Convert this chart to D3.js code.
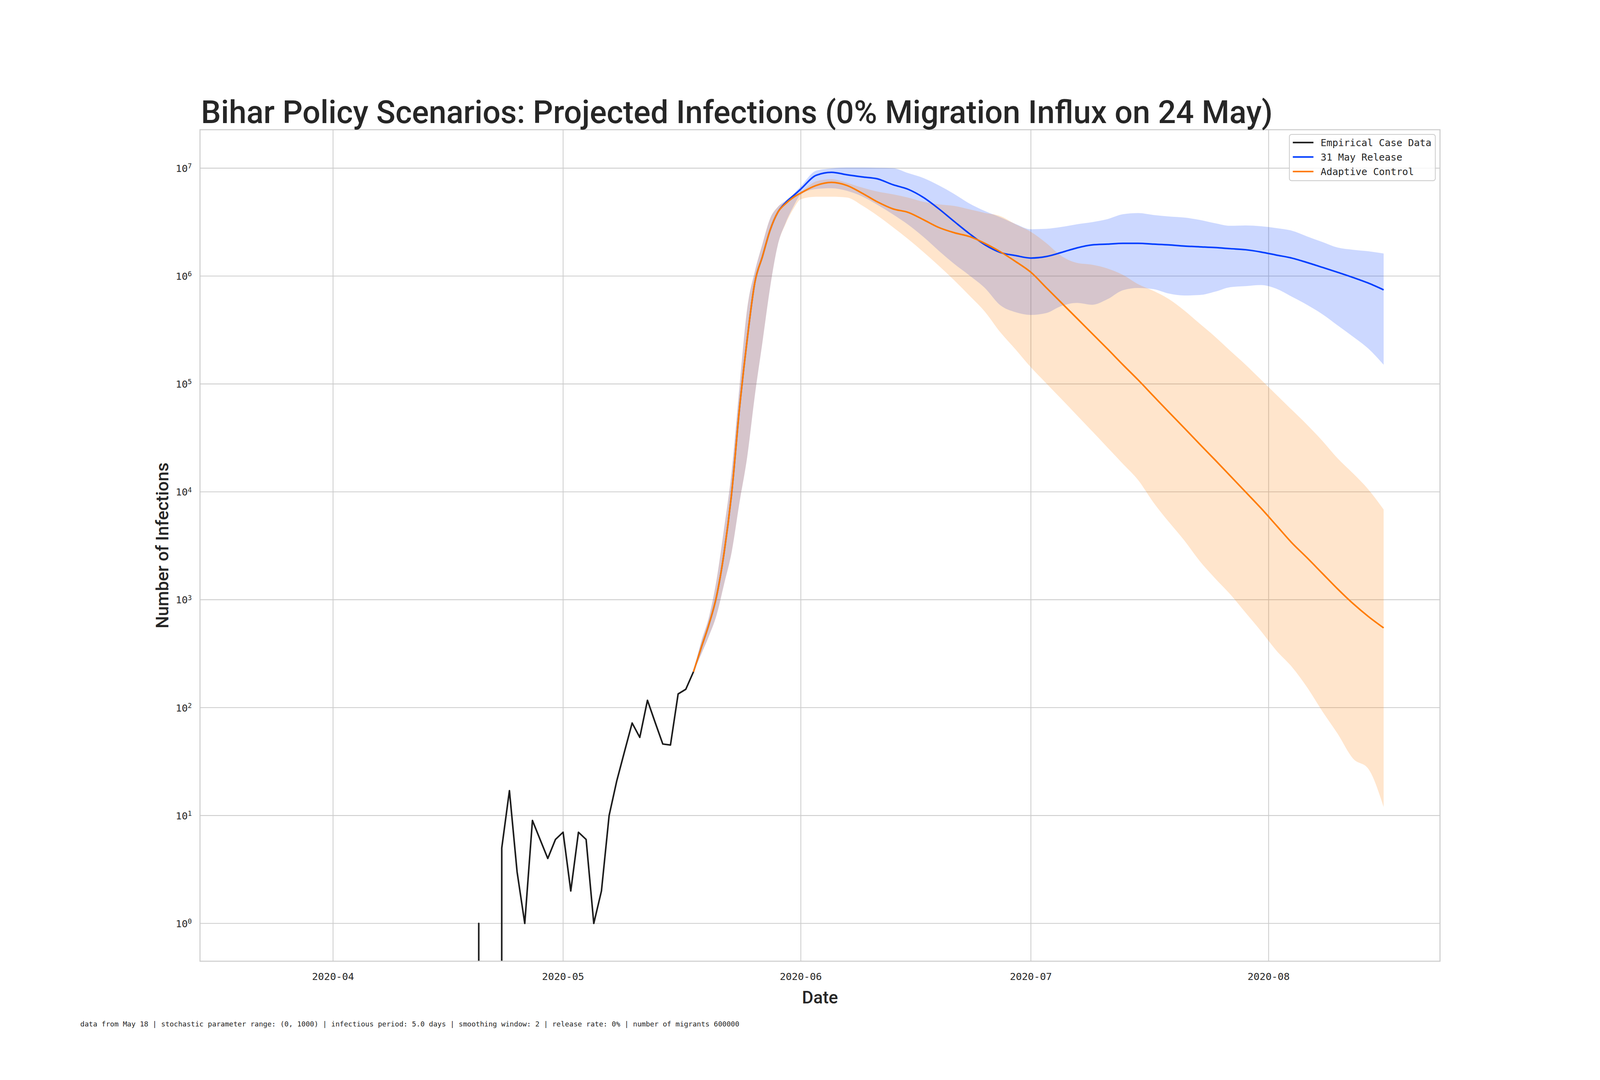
<!DOCTYPE html>
<html>
<head>
<meta charset="utf-8">
<script src="https://cdn.jsdelivr.net/npm/d3@7"></script>
<style>
  html, body { margin: 0; padding: 0; background: #fff; overflow: hidden; }
  #chart svg { display: block; }
</style>
</head>
<body>
<div id="chart"></div>
<script>

// daily empirical case counts starting 22 March
var caseStart = "2020-03-22";
var cases = [0,0,0,0,0,0,0,0,0,0,
             0,0,0,0,0,0,0,0,0,0,0,0,0,0,0,0,0,0,0,
             1,0,0,5,17,3,1,9,6,4,6,
             7,2,7,6,1,2,10,21,39,72,53,117,73,46,45,134,148,215];

// projection dates
var projDates = ["2020-05-18","2020-05-19","2020-05-20","2020-05-21","2020-05-22","2020-05-23","2020-05-24",
                 "2020-05-25","2020-05-26","2020-05-27","2020-05-28","2020-05-29","2020-05-30","2020-05-31",
                 "2020-06-01","2020-06-03","2020-06-05","2020-06-07","2020-06-09","2020-06-11","2020-06-13",
                 "2020-06-15","2020-06-17","2020-06-19","2020-06-21","2020-06-23","2020-06-25","2020-06-27",
                 "2020-06-29","2020-07-01","2020-07-03","2020-07-05","2020-07-07","2020-07-09","2020-07-11",
                 "2020-07-13","2020-07-15","2020-07-17","2020-07-19","2020-07-21","2020-07-23","2020-07-25",
                 "2020-07-27","2020-07-29","2020-07-31","2020-08-02","2020-08-04","2020-08-06","2020-08-08",
                 "2020-08-10","2020-08-12","2020-08-14","2020-08-16"];

// log10 of projected infections
var releaseMid = [2.332,2.553,2.768,3.029,3.439,4.002,4.773,5.410,5.940,6.182,6.427,6.591,6.680,6.743,
                  6.807,6.934,6.962,6.939,6.919,6.901,6.847,6.804,6.728,6.623,6.506,6.392,6.290,6.219,
                  6.190,6.167,6.181,6.219,6.261,6.289,6.296,6.303,6.303,6.296,6.289,6.278,6.271,6.264,
                  6.254,6.244,6.223,6.195,6.167,6.126,6.081,6.035,5.987,5.935,5.872];
var releaseLo  = [2.332,2.493,2.661,2.855,3.147,3.449,3.901,4.321,4.891,5.390,5.897,6.289,6.490,6.640,
                  6.756,6.807,6.814,6.790,6.738,6.660,6.572,6.476,6.362,6.234,6.113,6.005,5.890,5.730,
                  5.665,5.640,5.657,5.723,5.751,5.734,5.786,5.869,5.890,5.879,5.838,5.820,5.824,5.855,
                  5.897,5.907,5.917,5.883,5.810,5.734,5.647,5.543,5.439,5.328,5.178];
var releaseHi  = [2.332,2.610,2.835,3.180,3.667,4.203,4.975,5.696,6.041,6.299,6.534,6.641,6.700,6.760,
                  6.832,6.977,6.998,7.006,7.006,7.003,7.000,6.954,6.908,6.840,6.761,6.672,6.603,6.545,
                  6.483,6.434,6.438,6.455,6.480,6.500,6.528,6.573,6.584,6.566,6.552,6.542,6.521,6.490,
                  6.466,6.469,6.462,6.445,6.421,6.368,6.316,6.264,6.244,6.230,6.209];

var adaptiveMid = [2.332,2.553,2.768,3.029,3.439,4.002,4.773,5.410,5.940,6.182,6.427,6.591,6.670,6.728,
                   6.770,6.840,6.868,6.840,6.768,6.687,6.623,6.590,6.522,6.450,6.402,6.366,6.303,6.226,
                   6.135,6.035,5.893,5.751,5.609,5.466,5.324,5.178,5.036,4.887,4.738,4.592,4.443,4.297,
                   4.148,3.999,3.849,3.690,3.530,3.390,3.245,3.100,2.965,2.845,2.739];
var adaptiveLo  = [2.332,2.493,2.661,2.855,3.147,3.449,3.901,4.321,4.891,5.390,5.897,6.289,6.480,6.618,
                   6.712,6.735,6.735,6.728,6.654,6.560,6.454,6.342,6.222,6.095,5.961,5.818,5.670,5.480,
                   5.320,5.154,5.006,4.859,4.710,4.561,4.410,4.259,4.108,3.900,3.720,3.550,3.360,3.200,
                   3.050,2.880,2.710,2.530,2.380,2.190,1.967,1.758,1.528,1.433,1.078];
var adaptiveHi  = [2.332,2.610,2.835,3.180,3.667,4.203,4.975,5.696,6.041,6.299,6.534,6.641,6.691,6.745,
                   6.781,6.878,6.898,6.865,6.820,6.783,6.758,6.727,6.688,6.665,6.650,6.618,6.585,6.556,
                   6.480,6.410,6.306,6.185,6.122,6.105,6.070,6.011,5.924,5.862,5.786,5.681,5.560,5.439,
                   5.307,5.178,5.040,4.901,4.762,4.623,4.474,4.311,4.172,4.023,3.836];

var yTickExps = [0,1,2,3,4,5,6,7];
var xTicks = ["2020-04-01","2020-05-01","2020-06-01","2020-07-01","2020-08-01"];
var seriesNames = ["Empirical Case Data", "31 May Release", "Adaptive Control"];
var seriesColors = ["#1c1c1c", "#023eff", "#ff7c00"];

var titleText = "Bihar Policy Scenarios: Projected Infections (0% Migration Influx on 24 May)";
var footerText = "data from May 18 | stochastic parameter range: (0, 1000) | infectious period: 5.0 days | smoothing window: 2 | release rate: 0% | number of migrants 600000";

// layout is laid out on a 5120 x 2764 figure and scaled to the window
var W = window.innerWidth || 5120, H = window.innerHeight || 2764;
var kx = W / 5120, ky = H / 2764, k = kx;

var margin = {top: 332 * ky, right: 512 * kx, bottom: 304 * ky, left: 640 * kx},
    width = W - margin.left - margin.right,
    height = H - margin.top - margin.bottom;

var parse = d3.utcParse("%Y-%m-%d");
var t0 = parse(caseStart);
var empirical = cases.map(function(v, i) { return {date: d3.utcDay.offset(t0, i), v: v}; });

function rows(mid, lo, hi) {
  return projDates.map(function(d, i) {
    return {date: parse(d), mid: Math.pow(10, mid[i]), lo: Math.pow(10, lo[i]), hi: Math.pow(10, hi[i])};
  });
}
var release = rows(releaseMid, releaseLo, releaseHi);
var adaptive = rows(adaptiveMid, adaptiveLo, adaptiveHi);

// domains padded by 5% like matplotlib autoscale
var allDates = empirical.map(function(d) { return d.date; }).concat(release.map(function(d) { return d.date; }));
var dExt = d3.extent(allDates);
var span = dExt[1] - dExt[0];
var x = d3.scaleUtc()
    .domain([new Date(+dExt[0] - span * 0.05), new Date(+dExt[1] + span * 0.05)])
    .range([0, width]);

var pos = cases.filter(function(v) { return v > 0; })
    .concat(release.map(function(d) { return d.hi; }), adaptive.map(function(d) { return d.hi; }),
            release.map(function(d) { return d.lo; }), adaptive.map(function(d) { return d.lo; }));
var lmin = Math.log10(d3.min(pos)), lmax = Math.log10(d3.max(pos));
var lpad = (lmax - lmin) * 0.05;
var y = d3.scaleLog()
    .domain([Math.pow(10, lmin - lpad), Math.pow(10, lmax + lpad)])
    .range([height, 0]);

function yv(v) { return v > 0 ? y(v) : height + 1e5; }

var svg = d3.select("#chart").append("svg")
    .attr("width", W)
    .attr("height", H)
    .style("background", "#fff");

var g = svg.append("g")
    .attr("transform", "translate(" + margin.left + "," + margin.top + ")");

g.append("defs").append("clipPath")
    .attr("id", "plot-clip")
  .append("rect")
    .attr("width", width)
    .attr("height", height);

// grid
g.append("g")
  .selectAll("line")
  .data(yTickExps)
  .enter().append("line")
    .attr("x1", 0)
    .attr("x2", width)
    .attr("y1", function(d) { return y(Math.pow(10, d)); })
    .attr("y2", function(d) { return y(Math.pow(10, d)); })
    .attr("stroke", "#cccccc")
    .attr("stroke-width", 2.6 * k);

g.append("g")
  .selectAll("line")
  .data(xTicks)
  .enter().append("line")
    .attr("x1", function(d) { return x(parse(d)); })
    .attr("x2", function(d) { return x(parse(d)); })
    .attr("y1", 0)
    .attr("y2", height)
    .attr("stroke", "#cccccc")
    .attr("stroke-width", 2.6 * k);

var plot = g.append("g").attr("clip-path", "url(#plot-clip)");

var area = d3.area()
    .x(function(d) { return x(d.date); })
    .y0(function(d) { return y(d.lo); })
    .y1(function(d) { return y(d.hi); })
    .curve(d3.curveMonotoneX);

var midLine = d3.line()
    .x(function(d) { return x(d.date); })
    .y(function(d) { return y(d.mid); })
    .curve(d3.curveMonotoneX);

var caseLine = d3.line()
    .x(function(d) { return x(d.date); })
    .y(function(d) { return yv(d.v); });

plot.append("path").datum(release)
    .attr("d", area)
    .attr("fill", seriesColors[1])
    .attr("fill-opacity", 0.2);

plot.append("path").datum(adaptive)
    .attr("d", area)
    .attr("fill", seriesColors[2])
    .attr("fill-opacity", 0.2);

plot.append("path").datum(empirical)
    .attr("d", caseLine)
    .attr("fill", "none")
    .attr("stroke", seriesColors[0])
    .attr("stroke-width", 5 * k)
    .attr("stroke-linejoin", "round");

plot.append("path").datum(release)
    .attr("d", midLine)
    .attr("fill", "none")
    .attr("stroke", seriesColors[1])
    .attr("stroke-width", 5 * k);

plot.append("path").datum(adaptive)
    .attr("d", midLine)
    .attr("fill", "none")
    .attr("stroke", seriesColors[2])
    .attr("stroke-width", 5 * k);

// frame
g.append("rect")
    .attr("width", width)
    .attr("height", height)
    .attr("fill", "none")
    .attr("stroke", "#cccccc")
    .attr("stroke-width", 3.3 * k);

// y tick labels 10^n
var yl = g.append("g")
  .selectAll("text")
  .data(yTickExps)
  .enter().append("text")
    .attr("x", -26 * kx)
    .attr("y", function(d) { return y(Math.pow(10, d)) + 12 * k; })
    .attr("text-anchor", "end")
    .attr("font-family", "DejaVu Sans Mono")
    .attr("font-size", (32 * k) + "px")
    .attr("fill", "#262626");
yl.append("tspan").text("10");
yl.append("tspan")
    .attr("dy", -11 * k)
    .attr("font-size", (22 * k) + "px")
    .text(function(d) { return d; });

// x tick labels
g.append("g")
  .selectAll("text")
  .data(xTicks)
  .enter().append("text")
    .attr("x", function(d) { return x(parse(d)); })
    .attr("y", height + 39 * ky + 11 * k)
    .attr("text-anchor", "middle")
    .attr("font-family", "DejaVu Sans Mono")
    .attr("font-size", (32 * k) + "px")
    .attr("fill", "#262626")
    .text(function(d) { return d3.utcFormat("%Y-%m")(parse(d)); });

// axis labels
g.append("text")
    .attr("x", width / 2)
    .attr("y", height + 108 * ky)
    .attr("text-anchor", "middle")
    .attr("font-family", "Roboto")
    .attr("font-weight", 500)
    .attr("font-size", (56 * k) + "px")
    .attr("fill", "#262626")
    .text("Date");

var ylab = g.append("text")
    .attr("transform", "translate(" + (-101 * kx) + "," + (height / 2) + ") rotate(-90)")
    .attr("text-anchor", "middle")
    .attr("font-family", "Roboto")
    .attr("font-weight", 500)
    .attr("font-size", (56 * k) + "px")
    .attr("fill", "#262626")
    .text("Number of Infections");

var title = svg.append("text")
    .attr("x", margin.left + 3 * kx)
    .attr("y", 315 * ky)
    .attr("font-family", "Roboto")
    .attr("font-weight", 500)
    .attr("font-size", (100 * k) + "px")
    .attr("fill", "#262626")
    .text(titleText);

function fitWidth(sel, target) {
  var len = sel.node().getComputedTextLength();
  var fs = parseFloat(sel.attr("font-size"));
  sel.attr("font-size", (fs * target / len) + "px");
}
fitWidth(title, 3430 * kx);
fitWidth(ylab, 531 * k);

// legend
var lw = 467 * k, lh = 148 * k;
var lg = g.append("g")
    .attr("transform", "translate(" + (width - 15 * k - lw) + "," + (15 * k) + ")");

lg.append("rect")
    .attr("width", lw)
    .attr("height", lh)
    .attr("rx", 7 * k)
    .attr("fill", "#fff")
    .attr("fill-opacity", 0.8)
    .attr("stroke", "#cccccc")
    .attr("stroke-width", 2.6 * k);

var item = lg.selectAll(".item")
    .data(seriesNames)
  .enter().append("g")
    .attr("class", "item")
    .attr("transform", function(d, i) { return "translate(0," + ((26 + i * 46.3) * k) + ")"; });

item.append("line")
    .attr("x1", 11 * k)
    .attr("x2", 77 * k)
    .attr("stroke", function(d, i) { return seriesColors[i]; })
    .attr("stroke-width", 5 * k);

item.append("text")
    .attr("x", 100 * k)
    .attr("y", 11 * k)
    .attr("font-family", "DejaVu Sans Mono")
    .attr("font-size", (31 * k) + "px")
    .attr("fill", "#262626")
    .text(function(d) { return d; });

// footer note
svg.append("text")
    .attr("x", 257 * kx)
    .attr("y", 2627 * ky)
    .attr("font-family", "DejaVu Sans Mono")
    .attr("font-size", (22.6 * k) + "px")
    .attr("fill", "#262626")
    .text(footerText);

</script>
</body>
</html>
